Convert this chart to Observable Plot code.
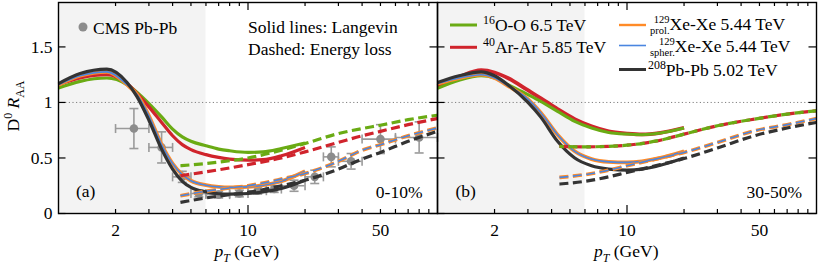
<!DOCTYPE html>
<html><head><meta charset="utf-8">
<script src="https://cdn.jsdelivr.net/npm/d3@7"></script>
<script src="https://cdn.jsdelivr.net/npm/@observablehq/plot@0.6"></script>
<style>
body{margin:0;background:#fff}
svg{display:block}
svg text, svg tspan{font-family:"Liberation Serif","Times New Roman","DejaVu Serif",serif !important;}
</style>
</head><body><div id="chart"></div>
<script>
// ---------- data ----------
const panels = ["a", "b"];
const panelTags = ["(a)", "(b)"];
const centralities = ["0-10%", "30-50%"];
const shadeRange = [1, 6];
const xMajorTicks = [10];
const xMinorTicks = [2, 3, 4, 5, 6, 7, 8, 9, 20, 30, 40, 50, 60, 70, 80, 90];
const xTickLabels = [2, 10, 50];
const yTicks = [0, 0.5, 1, 1.5];
const refLine = [1];

// panel (a): 0-10%, Langevin (solid)
const ptSolidA = [1, 1.3, 1.8, 2.3, 2.6, 3, 3.5, 4, 4.5, 5, 6, 7, 8, 10, 12, 15, 20];
const ooSolidA = [1.13, 1.19, 1.22, 1.16, 1.09, 0.99, 0.87, 0.76, 0.69, 0.65, 0.61, 0.58, 0.565, 0.55, 0.555, 0.585, 0.635];
const arSolidA = [1.16, 1.22, 1.25, 1.17, 1.08, 0.96, 0.82, 0.70, 0.62, 0.575, 0.53, 0.505, 0.49, 0.48, 0.485, 0.52, 0.595];
const xeProlSolidA = [1.16, 1.24, 1.275, 1.16, 1.07, 0.88, 0.62, 0.45, 0.35, 0.295, 0.255, 0.24, 0.235, 0.24, 0.255, 0.29, 0.38];
const xeSpherSolidA = [1.16, 1.24, 1.275, 1.16, 1.07, 0.88, 0.62, 0.45, 0.35, 0.295, 0.255, 0.24, 0.235, 0.24, 0.255, 0.29, 0.38];
const pbSolidA = [1.17, 1.26, 1.30, 1.18, 1.05, 0.84, 0.58, 0.40, 0.29, 0.235, 0.195, 0.178, 0.175, 0.18, 0.195, 0.225, 0.30];
// panel (a): energy loss (dashed)
const ptDashA = [4.4, 6, 8, 10, 15, 20, 30, 40, 50, 70, 100];
const ooDashA = [0.43, 0.45, 0.475, 0.50, 0.57, 0.63, 0.72, 0.765, 0.795, 0.845, 0.885];
const arDashA = [0.34, 0.375, 0.41, 0.44, 0.50, 0.555, 0.64, 0.70, 0.74, 0.80, 0.855];
const xeProlDashA = [0.16, 0.20, 0.23, 0.25, 0.31, 0.36, 0.47, 0.57, 0.62, 0.70, 0.77];
const xeSpherDashA = [0.16, 0.20, 0.23, 0.25, 0.31, 0.36, 0.47, 0.57, 0.62, 0.70, 0.77];
const pbDashA = [0.10, 0.14, 0.17, 0.19, 0.25, 0.30, 0.40, 0.49, 0.55, 0.65, 0.74];

// panel (b): 30-50%, Langevin (solid)
const ptSolidB = [1, 1.3, 1.7, 2.0, 2.35, 3.0, 3.5, 4.3, 5.3, 6.5, 8, 10, 12, 15, 20];
const ooSolidB = [1.127, 1.20, 1.24, 1.22, 1.16, 1.07, 1.01, 0.92, 0.83, 0.77, 0.73, 0.715, 0.71, 0.725, 0.77];
const arSolidB = [1.148, 1.23, 1.29, 1.27, 1.22, 1.11, 1.04, 0.94, 0.85, 0.785, 0.74, 0.72, 0.712, 0.727, 0.772];
const xeProlSolidB = [1.17, 1.22, 1.25, 1.22, 1.15, 1.03, 0.91, 0.71, 0.56, 0.49, 0.465, 0.46, 0.47, 0.50, 0.56];
const xeSpherSolidB = [1.17, 1.22, 1.25, 1.22, 1.15, 1.03, 0.91, 0.71, 0.56, 0.49, 0.465, 0.46, 0.47, 0.50, 0.56];
const pbSolidB = [1.18, 1.24, 1.276, 1.24, 1.16, 1.0, 0.87, 0.65, 0.50, 0.43, 0.40, 0.39, 0.40, 0.435, 0.50];
// panel (b): energy loss (dashed)
const ptDashB = [4.4, 6, 8, 10, 15, 20, 30, 47, 70, 100];
const ooDashB = [0.604, 0.60, 0.605, 0.615, 0.66, 0.715, 0.79, 0.85, 0.895, 0.925];
const arDashB = [0.604, 0.60, 0.605, 0.615, 0.66, 0.715, 0.79, 0.85, 0.895, 0.925];
const xeProlDashB = [0.325, 0.35, 0.39, 0.43, 0.50, 0.55, 0.64, 0.744, 0.80, 0.855];
const xeSpherDashB = [0.325, 0.35, 0.39, 0.43, 0.50, 0.55, 0.64, 0.744, 0.80, 0.855];
const pbDashB = [0.265, 0.29, 0.33, 0.37, 0.44, 0.495, 0.59, 0.70, 0.77, 0.82];

// CMS Pb-Pb 0-10% data
const cmsPt = [2.5, 3.5, 4.5, 5.5, 7, 9, 11.25, 13.75, 17.5, 22.5, 27.5, 35, 50, 80];
const cmsLo = [2, 3, 4, 5, 6, 8, 10, 12.5, 15, 20, 25, 30, 40, 60];
const cmsHi = [3, 4, 5, 6, 8, 10, 12.5, 15, 20, 25, 30, 40, 60, 100];
const cmsRaa = [0.765, 0.595, 0.33, 0.18, 0.17, 0.18, 0.205, 0.22, 0.25, 0.33, 0.51, 0.47, 0.67, 0.685];
const cmsErr = [0.18, 0.14, 0.05, 0.03, 0.03, 0.03, 0.03, 0.03, 0.05, 0.06, 0.09, 0.07, 0.13, 0.14];

// ---------- style ----------
const FONT = "'Liberation Serif', 'Times New Roman', 'DejaVu Serif', serif";
const FS = 17.5;
const C = {oo: "#6aab14", ar: "#d0242c", prol: "#ff8b28", spher: "#4a86e0", pb: "#333333", cms: "#8c8c8c", err: "#9a9a9a"};
const W = 831, H = 265, ML = 57, MR = 15, MT = 2, MB = 52;
const FW = (W - ML - MR) / 2, FH = H - MT - MB;

const rows = (panel, pts, vals) => pts.map((p, i) => ({panel, pt: p, v: vals[i]}));
const line = (panel, pts, vals, o) => Plot.line(rows(panel, pts, vals), {fx: "panel", x: "pt", y: "v", curve: "monotone-x", strokeLinecap: "butt", ...o});
const cms = cmsPt.map((p, i) => ({panel: "a", pt: p, lo: cmsLo[i], hi: cmsHi[i], raa: cmsRaa[i], err: cmsErr[i]}));
const hcap = {draw(ctx, size) { const r = Math.sqrt(size / Math.PI); ctx.moveTo(-r, 0); ctx.lineTo(r, 0); }};
const vcap = {draw(ctx, size) { const r = Math.sqrt(size / Math.PI); ctx.moveTo(0, -r); ctx.lineTo(0, r); }};

const solidW = 3.2, dash = "9,4.5";
const marks = [
  Plot.rect(panels, {fx: d => d, x1: () => shadeRange[0], x2: () => shadeRange[1], fill: "#f3f3f3"}),
  Plot.ruleY(refLine, {stroke: "#808080", strokeWidth: 1, strokeDasharray: "1.2,2.4"}),
  // CMS
  Plot.ruleY(cms, {fx: "panel", y: "raa", x1: "lo", x2: "hi", stroke: C.err, strokeWidth: 1.6}),
  Plot.ruleX(cms, {fx: "panel", x: "pt", y1: d => d.raa - d.err, y2: d => d.raa + d.err, stroke: C.err, strokeWidth: 1.6}),
  Plot.dot(cms, {fx: "panel", x: "pt", y: d => d.raa + d.err, symbol: hcap, r: 4.5, stroke: C.err, strokeWidth: 1.6, fill: "none"}),
  Plot.dot(cms, {fx: "panel", x: "pt", y: d => d.raa - d.err, symbol: hcap, r: 4.5, stroke: C.err, strokeWidth: 1.6, fill: "none"}),
  Plot.dot(cms, {fx: "panel", x: "lo", y: "raa", symbol: vcap, r: 4.5, stroke: C.err, strokeWidth: 1.6, fill: "none"}),
  Plot.dot(cms, {fx: "panel", x: "hi", y: "raa", symbol: vcap, r: 4.5, stroke: C.err, strokeWidth: 1.6, fill: "none"}),
  Plot.dot(cms, {fx: "panel", x: "pt", y: "raa", r: 4.3, fill: C.cms, stroke: "none"}),
  // panel a solid
  line("a", ptSolidA, ooSolidA, {stroke: C.oo, strokeWidth: solidW}),
  line("a", ptSolidA, arSolidA, {stroke: C.ar, strokeWidth: solidW}),
  line("a", ptSolidA, xeProlSolidA, {stroke: C.prol, strokeWidth: 3.8}),
  line("a", ptSolidA, xeSpherSolidA, {stroke: C.spher, strokeWidth: 1.6}),
  line("a", ptSolidA, pbSolidA, {stroke: C.pb, strokeWidth: solidW}),
  // panel a dashed
  line("a", ptDashA, ooDashA, {stroke: C.oo, strokeWidth: solidW, strokeDasharray: dash}),
  line("a", ptDashA, arDashA, {stroke: C.ar, strokeWidth: solidW, strokeDasharray: dash}),
  line("a", ptDashA, xeProlDashA, {stroke: C.prol, strokeWidth: 3.6, strokeDasharray: dash}),
  line("a", ptDashA, xeSpherDashA, {stroke: C.spher, strokeWidth: 1.6, strokeDasharray: dash}),
  line("a", ptDashA, pbDashA, {stroke: C.pb, strokeWidth: solidW, strokeDasharray: dash}),
  // panel b solid
  line("b", ptSolidB, arSolidB, {stroke: C.ar, strokeWidth: 3.8}),
  line("b", ptSolidB, ooSolidB, {stroke: C.oo, strokeWidth: 3.0}),
  line("b", ptSolidB, xeProlSolidB, {stroke: C.prol, strokeWidth: 3.8}),
  line("b", ptSolidB, xeSpherSolidB, {stroke: C.spher, strokeWidth: 1.6}),
  line("b", ptSolidB, pbSolidB, {stroke: C.pb, strokeWidth: solidW}),
  // panel b dashed
  line("b", ptDashB, arDashB, {stroke: C.ar, strokeWidth: solidW, strokeDasharray: dash}),
  line("b", ptDashB, ooDashB, {stroke: C.oo, strokeWidth: solidW, strokeDasharray: dash, strokeDashoffset: 4.5}),
  line("b", ptDashB, xeProlDashB, {stroke: C.prol, strokeWidth: 3.6, strokeDasharray: dash}),
  line("b", ptDashB, xeSpherDashB, {stroke: C.spher, strokeWidth: 1.6, strokeDasharray: dash}),
  line("b", ptDashB, pbDashB, {stroke: C.pb, strokeWidth: solidW, strokeDasharray: dash}),
  // inward ticks
  Plot.tickX(xMajorTicks, {x: d => d, insetTop: FH - 8, stroke: "black", strokeWidth: 1.2}),
  Plot.tickX(xMinorTicks, {x: d => d, insetTop: FH - 4, stroke: "black", strokeWidth: 1.2}),
  Plot.tickX(xMajorTicks, {x: d => d, insetBottom: FH - 8, stroke: "black", strokeWidth: 1.2}),
  Plot.tickX(xMinorTicks, {x: d => d, insetBottom: FH - 4, stroke: "black", strokeWidth: 1.2}),
  Plot.tickY(yTicks, {y: d => d, insetRight: FW - 8, stroke: "black", strokeWidth: 1.2}),
  Plot.tickY(yTicks, {y: d => d, insetLeft: FW - 8, stroke: "black", strokeWidth: 1.2}),
  Plot.frame({stroke: "black", strokeWidth: 1.4}),
  Plot.axisX({ticks: xTickLabels, tickSize: 0, tickPadding: 10, tickFormat: d => `${d}`, label: null, fontSize: FS}),
  Plot.axisY({ticks: yTicks, tickSize: 0, tickPadding: 6, tickFormat: d => `${d}`, label: null, fontSize: FS})
];

const chart = Plot.plot({
  width: W, height: H,
  marginLeft: ML, marginRight: MR, marginTop: MT, marginBottom: MB,
  style: {fontFamily: FONT, fontSize: FS + "px", background: "white", color: "black"},
  x: {type: "log", domain: [1, 100]},
  y: {domain: [0, 1.9]},
  fx: {domain: panels, padding: 0, axis: null},
  marks
});
document.getElementById("chart").append(chart);

// ---------- rich text annotations ----------
const svg = d3.select(chart);
const g = svg.append("g").attr("font-family", FONT).attr("font-size", FS).attr("fill", "black").attr("text-anchor", "start");
function rich(x, y, parts, anchor = "start", transform = null, size = FS) {
  const t = g.append("text").attr("x", x).attr("y", y).attr("text-anchor", anchor);
  if (transform) t.attr("transform", transform);
  let shift = 0;
  for (const p of parts) {
    const ts = t.append("tspan").text(p.t);
    const target = p.sup ? -0.40 * size : p.sub ? 0.28 * size : 0;
    ts.attr("dy", target - shift); shift = target;
    if (p.sup || p.sub) ts.attr("font-size", size * 0.68);
    if (p.it) ts.attr("font-style", "italic");
  }
  return t;
}
const px0 = i => ML + i * FW;

// axis labels
rich(0, 0, [{t: "D"}, {t: "0", sup: true}, {t: " "}, {t: "R", it: true}, {t: "AA", sub: true}], "middle", "translate(19,106) rotate(-90)");
panels.forEach((p, i) => {
  rich(px0(i) + FW / 2, 257, [{t: "p", it: true}, {t: "T", it: true, sub: true}, {t: " (GeV)"}], "middle");
  g.append("text").attr("x", px0(i) + 19).attr("y", 197).attr("text-anchor", "start").text(panelTags[i]);
  g.append("text").attr("x", px0(i) + FW - 14).attr("y", 198).attr("text-anchor", "end").text(centralities[i]);
});

// panel (a) legend
const legendCms = "CMS Pb-Pb";
const noteLines = ["Solid lines: Langevin", "Dashed: Energy loss"];
g.append("circle").attr("cx", 83).attr("cy", 27).attr("r", 4.5).attr("fill", C.cms);
g.append("text").attr("x", 93).attr("y", 33.5).text(legendCms);
g.append("text").attr("x", 248).attr("y", 32.5).text(noteLines[0]);
g.append("text").attr("x", 248).attr("y", 54.5).text(noteLines[1]);

// panel (b) legend
function swatch(x1, x2, y, color, w) {
  g.append("line").attr("x1", x1).attr("x2", x2).attr("y1", y).attr("y2", y).attr("stroke", color).attr("stroke-width", w);
}
swatch(450, 477, 25, C.oo, 3);
rich(483, 30.5, [{t: "16", sup: true}, {t: "O-O 6.5 TeV"}]);
swatch(450, 477, 47.3, C.ar, 3);
rich(483, 53, [{t: "40", sup: true}, {t: "Ar-Ar 5.85 TeV"}]);

function prescript(x, y, sup, sub, main) {
  const s = g.append("text").attr("x", x).attr("y", y + 0.28 * FS).attr("font-size", FS * 0.6).text(sub);
  const w = s.node().getComputedTextLength();
  g.append("text").attr("x", x + w).attr("y", y - 0.38 * FS).attr("font-size", FS * 0.6).attr("text-anchor", "end").text(sup);
  g.append("text").attr("x", x + w).attr("y", y).text(main);
}
swatch(619, 646, 25, C.prol, 2.4);
prescript(650, 29.5, "129", "prol.", "Xe-Xe 5.44 TeV");
swatch(619, 646, 45.5, C.spher, 1.6);
prescript(650, 51.5, "129", "spher.", "Xe-Xe 5.44 TeV");
swatch(619, 646, 69.5, C.pb, 3);
rich(648, 75.5, [{t: "208", sup: true}, {t: "Pb-Pb 5.02 TeV"}]);
</script>
</body></html>
